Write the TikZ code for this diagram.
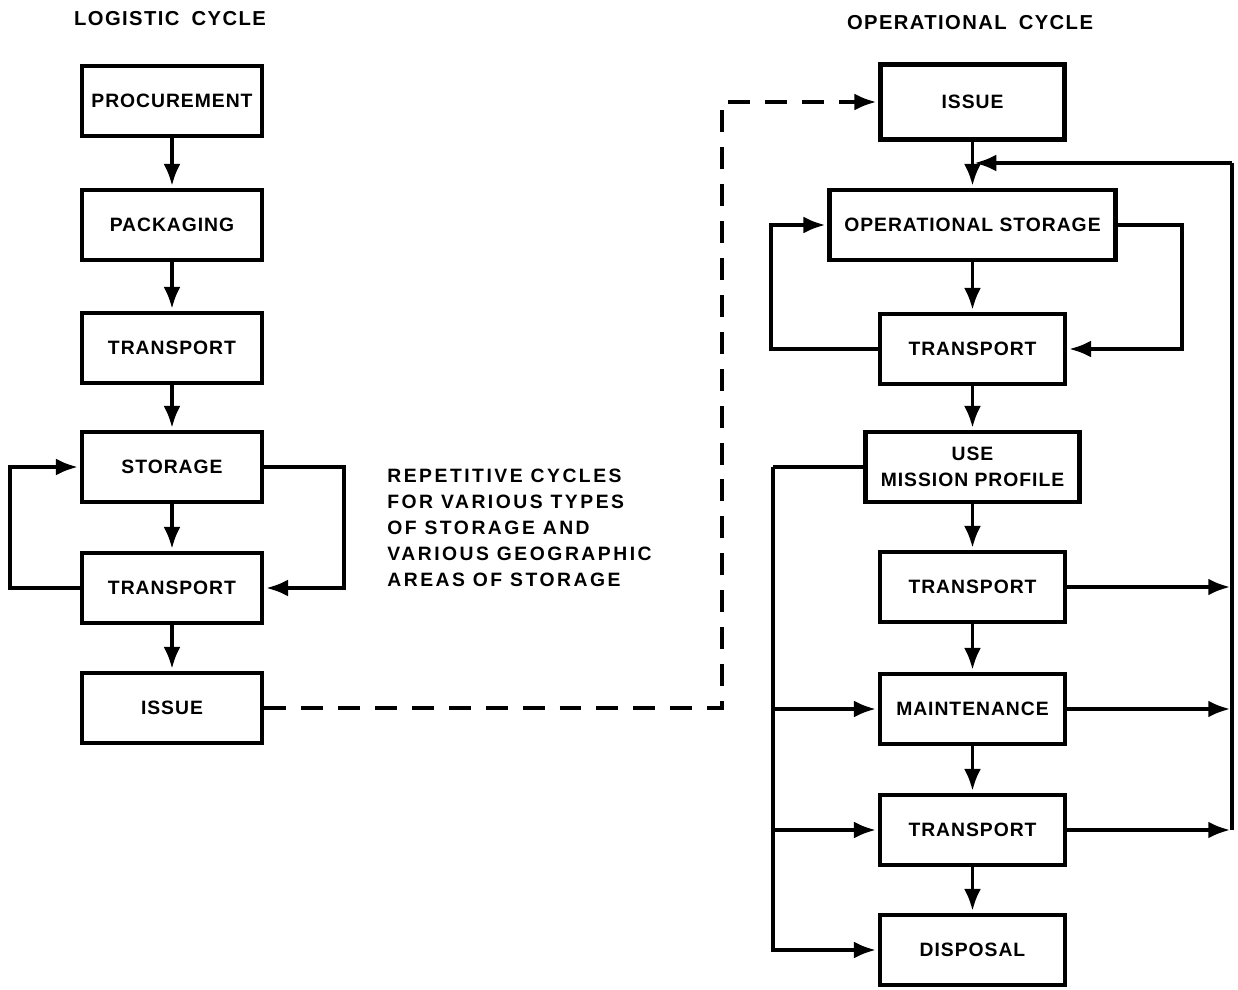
\documentclass[tikz,border=0pt]{standalone}
\usepackage{fontspec}
\setmainfont{Liberation Sans}[LetterSpace=5]
\usetikzlibrary{arrows.meta}

\tikzset{
  blk/.style={draw, line width=2.6pt, font=\bfseries\fontsize{11}{13}\selectfont,
    minimum height=1.4cm, inner sep=2pt, align=center},
  flow/.style={line width=2.2pt, -{Latex[length=4.4mm,width=3.4mm]}, shorten >=1pt},
  link/.style={line width=2.2pt},
  dashes/.style={dash pattern=on 12.5pt off 8.5pt},
  hdr/.style={font=\bfseries\fontsize{11.5}{13}\selectfont\addfontfeatures{LetterSpace=7}},
  note/.style={align=left, inner sep=0pt,
    font=\bfseries\fontsize{11}{14.8}\selectfont\addfontfeatures{LetterSpace=13}}
}

\begin{document}
\begin{tikzpicture}
\useasboundingbox (0,0) rectangle (24.76,-19.8);

\node[hdr] (lc) at (3.4,-0.38) {LOGISTIC\hspace{0.6em}CYCLE};
\node[hdr] (oc) at (19.4,-0.46) {OPERATIONAL\hspace{0.6em}CYCLE};

% logistic cycle
\node[blk, minimum width=3.6cm] (proc) at (3.44,-2.02) {PROCUREMENT};
\node[blk, minimum width=3.6cm] (pack) at (3.44,-4.5) {PACKAGING};
\node[blk, minimum width=3.6cm] (tr1) at (3.44,-6.96) {TRANSPORT};
\node[blk, minimum width=3.6cm] (stor) at (3.44,-9.34) {STORAGE};
\node[blk, minimum width=3.6cm] (tr2) at (3.44,-11.76) {TRANSPORT};
\node[blk, minimum width=3.6cm] (issL) at (3.44,-14.16) {ISSUE};

\draw[flow] (proc) -- (pack);
\draw[flow] (pack) -- (tr1);
\draw[flow] (tr1) -- (stor);
\draw[flow] (stor) -- (tr2);
\draw[flow] (tr2) -- (issL);
\draw[flow] (tr2.west) -- ++(-1.4,0) |- (stor.west);
\draw[flow] (stor.east) -- ++(1.6,0) |- (tr2.east);

\node[note, anchor=north west] (rep) at (7.74,-9.38)
  {REPETITIVE CYCLES\\FOR VARIOUS TYPES\\OF STORAGE AND\\VARIOUS GEOGRAPHIC\\AREAS OF STORAGE};

% operational cycle
\node[blk, minimum width=3.68cm, minimum height=1.5cm] (issR) at (19.45,-2.04) {ISSUE};
\node[blk, minimum width=5.72cm] (ops) at (19.45,-4.5) {OPERATIONAL STORAGE};
\node[blk, minimum width=3.7cm] (ot1) at (19.45,-6.98) {TRANSPORT};
\node[blk, minimum width=4.28cm, font=\bfseries\fontsize{11}{15}\selectfont] (use) at (19.45,-9.34) {USE\\MISSION PROFILE};
\node[blk, minimum width=3.7cm] (ot2) at (19.45,-11.74) {TRANSPORT};
\node[blk, minimum width=3.7cm] (mnt) at (19.45,-14.18) {MAINTENANCE};
\node[blk, minimum width=3.7cm] (ot3) at (19.45,-16.6) {TRANSPORT};
\node[blk, minimum width=3.7cm] (disp) at (19.45,-19.0) {DISPOSAL};

\coordinate (dc) at (14.44,-14.16);
\draw[flow, dashes] (issL.east) -- (dc) |- (issR.west);

\draw[flow] (issR) -- (ops);
\draw[flow] (ops) -- (ot1);
\draw[flow] (ot1) -- (use);
\draw[flow] (use) -- (ot2);
\draw[flow] (ot2) -- (mnt);
\draw[flow] (mnt) -- (ot3);
\draw[flow] (ot3) -- (disp);

\draw[flow] (ot1.west) -- ++(-2.14,0) |- (ops.west);
\draw[flow] (ops.east) -- ++(1.29,0) |- (ot1.east);

\coordinate (bt) at (24.64,-3.26);
\coordinate (mg) at (19.45,-3.26);
\draw[flow] (bt) -- (mg);
\draw[link] (bt) -- (ot3.east -| bt);
\draw[flow] (ot2.east) -- (ot2.east -| bt);
\draw[flow] (mnt.east) -- (mnt.east -| bt);
\draw[flow] (ot3.east) -- (ot3.east -| bt);

\coordinate (lb) at (15.46,-9.34);
\draw[link] (use.west) -- (lb);
\draw[flow] (lb) |- (disp.west);
\draw[flow] (mnt.west -| lb) -- (mnt.west);
\draw[flow] (ot3.west -| lb) -- (ot3.west);
\end{tikzpicture}
\end{document}
